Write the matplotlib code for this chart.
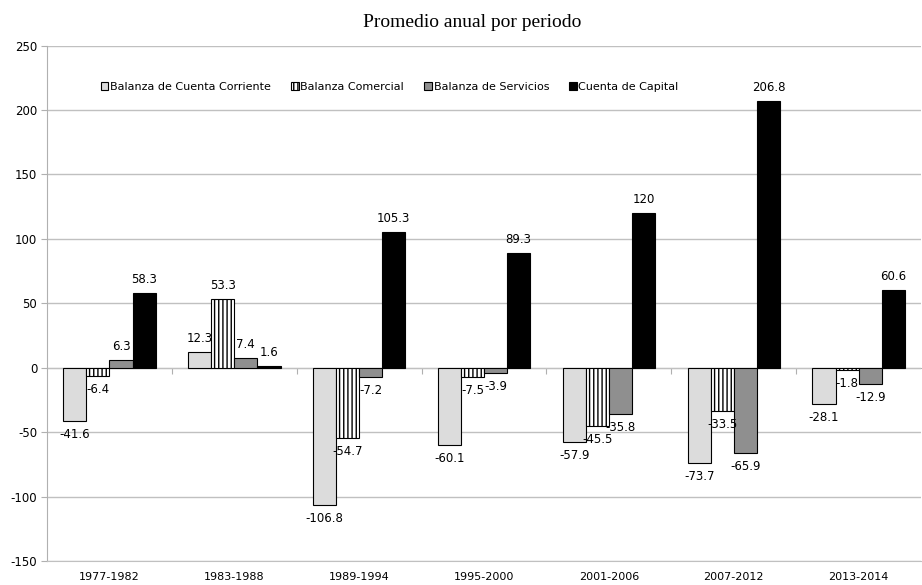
import matplotlib.pyplot as plt
import numpy as np

periodos = ['1977-1982', '1983-1988', '1989-1994', '1995-2000',
            '2001-2006', '2007-2012', '2013-2014']
series = ['Balanza de Cuenta Corriente', 'Balanza Comercial',
          'Balanza de Servicios', 'Cuenta de Capital']
cuenta_corriente = [-41.6, 12.3, -106.8, -60.1, -57.9, -73.7, -28.1]
comercial = [-6.4, 53.3, -54.7, -7.5, -45.5, -33.5, -1.8]
servicios = [6.3, 7.4, -7.2, -3.9, -35.8, -65.9, -12.9]
capital = [58.3, 1.6, 105.3, 89.3, 120, 206.8, 60.6]
valores = [cuenta_corriente, comercial, servicios, capital]

estilos = [
    dict(color='#dcdcdc', edgecolor='black', hatch=None),
    dict(color='white', edgecolor='black', hatch='||||'),
    dict(color='#8f8f8f', edgecolor='black', hatch=None),
    dict(color='black', edgecolor='black', hatch=None),
]

plt.rcParams['hatch.linewidth'] = 1.0
plt.rcParams['font.family'] = 'DejaVu Sans'
plt.rcParams['axes.unicode_minus'] = False

fig = plt.figure(figsize=(9.22, 5.85), dpi=100)
ax = fig.add_axes([0.051, 0.041, 0.948, 0.881])

ymin, ymax = -150, 250
ancho = 0.185
x = np.arange(len(periodos))
for i, (nombre, vals, est) in enumerate(zip(series, valores, estilos)):
    pos = x + (i - 1.5) * ancho
    barras = ax.bar(pos, vals, ancho, label=nombre, color=est['color'],
                    edgecolor=est['edgecolor'], hatch=est['hatch'],
                    linewidth=0.8, zorder=3)
    ax.bar_label(barras, labels=[f'{v:g}' for v in vals], padding=5,
                 fontsize=8.5, zorder=4)

ax.set_xlim(-0.5, len(periodos) - 0.5)
ax.set_ylim(ymin, ymax)
ax.set_yticks(np.arange(ymin, ymax + 1, 50))
ax.set_xticks(x)
ax.set_xticklabels(periodos, fontsize=8)
ax.tick_params(axis='x', length=0, pad=8)
ax.tick_params(axis='y', length=4, color='#b0b0b0', labelsize=8.5, pad=3)
ax.grid(axis='y', color='#c0c0c0', linewidth=1, zorder=0)
ax.set_axisbelow(True)
for lado in ['top', 'right']:
    ax.spines[lado].set_visible(False)
ax.spines['left'].set_color('#b0b0b0')
ax.spines['bottom'].set_color('#c0c0c0')

# eje horizontal en cero con marcas entre periodos
eje0 = ax.secondary_xaxis((0 - ymin) / (ymax - ymin))
eje0.set_xticks(x[:-1] + 0.5)
eje0.set_xticklabels([])
eje0.tick_params(length=4, color='#b0b0b0', direction='out')
eje0.spines['bottom'].set_color('#b0b0b0')

ax.legend(loc='center', bbox_to_anchor=(0.392, 0.92), ncol=4, frameon=False,
          fontsize=8, handlelength=0.7, handleheight=0.7,
          handletextpad=0.15, columnspacing=1.8)

fig.text(0.512, 0.962, 'Promedio anual por periodo', ha='center',
         va='center', fontsize=14, family='Liberation Serif')

fig.savefig('out.png', dpi=100)
